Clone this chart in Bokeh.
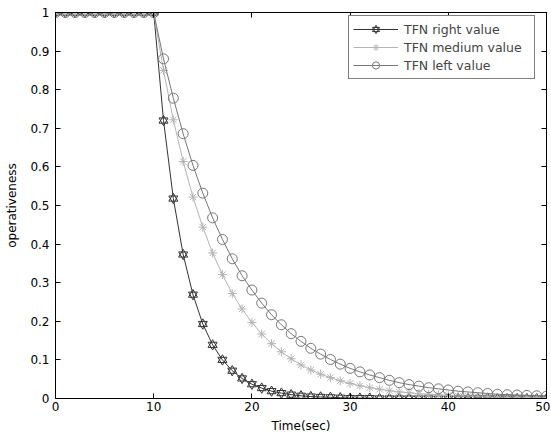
from bokeh.plotting import figure
from bokeh.models import LinearAxis, FixedTicker, Range1d, Legend, LegendItem, CustomJSTickFormatter
from bokeh.embed import file_html
from bokeh.resources import INLINE

time_sec = list(range(0, 51))

right_value = [1.0] * 11 + [
    0.720, 0.518, 0.373, 0.269, 0.193, 0.139, 0.100, 0.072, 0.052, 0.037,
    0.027, 0.019, 0.014, 0.010, 0.007, 0.005, 0.004, 0.003, 0.002, 0.001,
    0.001, 0.001, 0.0, 0.0, 0.0, 0.0, 0.0, 0.0, 0.0, 0.0,
    0.0, 0.0, 0.0, 0.0, 0.0, 0.0, 0.0, 0.0, 0.0, 0.0,
]
medium_value = [1.0] * 11 + [
    0.850, 0.722, 0.614, 0.522, 0.444, 0.377, 0.321, 0.272, 0.232, 0.197,
    0.167, 0.142, 0.121, 0.103, 0.087, 0.074, 0.063, 0.054, 0.046, 0.039,
    0.033, 0.028, 0.024, 0.020, 0.017, 0.015, 0.012, 0.011, 0.009, 0.008,
    0.007, 0.006, 0.005, 0.004, 0.003, 0.003, 0.002, 0.002, 0.002, 0.001,
]
left_value = [1.0] * 11 + [
    0.880, 0.778, 0.686, 0.604, 0.532, 0.468, 0.412, 0.362, 0.318, 0.281,
    0.247, 0.217, 0.191, 0.168, 0.148, 0.130, 0.115, 0.101, 0.089, 0.078,
    0.069, 0.061, 0.054, 0.047, 0.041, 0.036, 0.032, 0.028, 0.025, 0.022,
    0.019, 0.017, 0.015, 0.013, 0.011, 0.010, 0.009, 0.008, 0.007, 0.006,
]

x_ticks = [0, 10, 20, 30, 40, 50]
y_ticks = [0, 0.1, 0.2, 0.3, 0.4, 0.5, 0.6, 0.7, 0.8, 0.9, 1]
series_labels = ["TFN right value", "TFN medium value", "TFN left value"]

FONT = "DejaVu Sans"

p = figure(width=550, height=436, output_backend="svg", toolbar_location=None,
           x_range=Range1d(0, 50), y_range=Range1d(0, 1),
           min_border_left=55, min_border_right=4, min_border_top=12, min_border_bottom=38)
p.xgrid.visible = False
p.ygrid.visible = False
p.outline_line_color = "black"
p.outline_line_width = 1
p.background_fill_color = "white"
p.border_fill_color = "white"

c_right = "#333333"
c_med = "#b4b4b4"
c_left = "#777777"

r1l = p.line(time_sec, right_value, line_color=c_right, line_width=1)
r1a = p.scatter(time_sec, right_value, marker="triangle", size=9, fill_alpha=0,
                line_color=c_right)
r1b = p.scatter(time_sec, right_value, marker="inverted_triangle", size=9, fill_alpha=0,
                line_color=c_right)
r2l = p.line(time_sec, medium_value, line_color=c_med, line_width=1)
r2m = p.scatter(time_sec, medium_value, marker="asterisk", size=9, line_color=c_med)
r3l = p.line(time_sec, left_value, line_color=c_left, line_width=1)
r3m = p.scatter(time_sec, left_value, marker="circle", size=10, fill_alpha=0, line_color=c_left)

for ax in (p.xaxis[0], p.yaxis[0]):
    ax.major_tick_in = 5
    ax.major_tick_out = 0
    ax.minor_tick_in = 0
    ax.minor_tick_out = 0
    ax.axis_line_color = "black"
    ax.major_label_text_font = FONT
    ax.major_label_text_font_size = "12px"
    ax.major_label_text_color = "black"
    ax.axis_label_text_font = FONT
    ax.axis_label_text_font_size = "12px"
    ax.axis_label_text_font_style = "normal"
    ax.axis_label_text_color = "black"

p.xaxis[0].ticker = FixedTicker(ticks=x_ticks)
p.yaxis[0].ticker = FixedTicker(ticks=y_ticks)
p.yaxis[0].major_label_overrides = {0: "0", 1: "1"}
p.xaxis[0].axis_label = "Time(sec)"
p.yaxis[0].axis_label = "operativeness"
p.xaxis[0].major_label_standoff = 3
p.xaxis[0].axis_label_standoff = 5
p.yaxis[0].major_label_standoff = 6
p.yaxis[0].axis_label_standoff = 8

blank = CustomJSTickFormatter(code="return '';")
top = LinearAxis(ticker=FixedTicker(ticks=x_ticks), formatter=blank,
                 major_tick_in=5, major_tick_out=0, minor_tick_in=0, minor_tick_out=0,
                 major_label_standoff=0, axis_line_color="black")
rgt = LinearAxis(ticker=FixedTicker(ticks=y_ticks), formatter=CustomJSTickFormatter(code="return '';"),
                 major_tick_in=5, major_tick_out=0, minor_tick_in=0, minor_tick_out=0,
                 major_label_standoff=0, axis_line_color="black")
p.add_layout(top, "above")
p.add_layout(rgt, "right")

legend = Legend(items=[
    LegendItem(label=series_labels[0], renderers=[r1l, r1a, r1b]),
    LegendItem(label=series_labels[1], renderers=[r2l, r2m]),
    LegendItem(label=series_labels[2], renderers=[r3l, r3m]),
], location=(293, 319))
legend.label_text_font = FONT
legend.label_text_font_size = "12.5px"
legend.border_line_color = "black"
legend.border_line_width = 1
legend.background_fill_alpha = 1
legend.glyph_width = 45
legend.glyph_height = 18
legend.label_height = 18
legend.label_width = 126
legend.spacing = 0
legend.padding = 4
legend.margin = 0
legend.label_standoff = 6
p.add_layout(legend, "center")

open("out.html", "w").write(file_html(p, INLINE))
